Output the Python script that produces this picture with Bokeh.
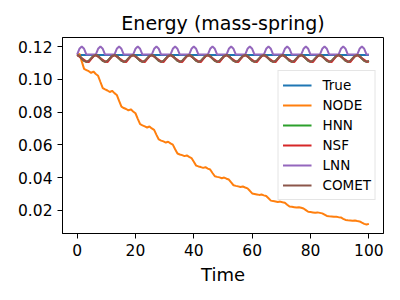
from bokeh.plotting import figure
from bokeh.models import Range1d, FixedTicker
from bokeh.embed import file_html
from bokeh.resources import INLINE

# ---------------- data ----------------
time = [round(0.8 * i, 1) for i in range(126)]  # sample times 0 .. 100

true_time = [0, 100]
true_energy = [0.1149, 0.1149]

node = [
    0.1150, 0.1156, 0.1110, 0.1064,
    0.1057, 0.1050, 0.1040, 0.1048, 0.1033, 0.1022, 0.0984, 0.0947,
    0.0939, 0.0932, 0.0923, 0.0930, 0.0916, 0.0905, 0.0868, 0.0833,
    0.0825, 0.0819, 0.0810, 0.0817, 0.0804, 0.0793, 0.0759, 0.0726,
    0.0719, 0.0713, 0.0706, 0.0712, 0.0700, 0.0691, 0.0661, 0.0633,
    0.0626, 0.0621, 0.0614, 0.0619, 0.0609, 0.0601, 0.0573, 0.0547,
    0.0541, 0.0537, 0.0531, 0.0535, 0.0526, 0.0519, 0.0496, 0.0473,
    0.0468, 0.0464, 0.0459, 0.0463, 0.0455, 0.0449, 0.0428, 0.0408,
    0.0404, 0.0401, 0.0396, 0.0400, 0.0393, 0.0388, 0.0370, 0.0353,
    0.0349, 0.0346, 0.0342, 0.0345, 0.0339, 0.0334, 0.0319, 0.0303,
    0.0300, 0.0297, 0.0294, 0.0296, 0.0291, 0.0287, 0.0273, 0.0259,
    0.0256, 0.0254, 0.0251, 0.0253, 0.0249, 0.0246, 0.0234, 0.0223,
    0.0221, 0.0219, 0.0217, 0.0218, 0.0215, 0.0211, 0.0201, 0.0191,
    0.0189, 0.0187, 0.0185, 0.0187, 0.0184, 0.0181, 0.0173, 0.0165,
    0.0163, 0.0162, 0.0160, 0.0161, 0.0158, 0.0156, 0.0148, 0.0141,
    0.0139, 0.0138, 0.0136, 0.0137, 0.0134, 0.0132, 0.0124, 0.0117,
    0.0113, 0.0117,
]

hnn = [
    0.1149, 0.1143, 0.1128, 0.1113, 0.1107, 0.1113, 0.1128, 0.1143,
    0.1149, 0.1143, 0.1128, 0.1113, 0.1107, 0.1113, 0.1128, 0.1143,
    0.1149, 0.1143, 0.1128, 0.1113, 0.1107, 0.1113, 0.1128, 0.1143,
    0.1149, 0.1143, 0.1128, 0.1113, 0.1107, 0.1113, 0.1128, 0.1143,
    0.1149, 0.1143, 0.1128, 0.1113, 0.1107, 0.1113, 0.1128, 0.1143,
    0.1149, 0.1143, 0.1128, 0.1113, 0.1107, 0.1113, 0.1128, 0.1143,
    0.1149, 0.1143, 0.1128, 0.1113, 0.1107, 0.1113, 0.1128, 0.1143,
    0.1149, 0.1143, 0.1128, 0.1113, 0.1107, 0.1113, 0.1128, 0.1143,
    0.1149, 0.1143, 0.1128, 0.1113, 0.1107, 0.1113, 0.1128, 0.1143,
    0.1149, 0.1143, 0.1128, 0.1113, 0.1107, 0.1113, 0.1128, 0.1143,
    0.1149, 0.1143, 0.1128, 0.1113, 0.1107, 0.1113, 0.1128, 0.1143,
    0.1149, 0.1143, 0.1128, 0.1113, 0.1107, 0.1113, 0.1128, 0.1143,
    0.1149, 0.1143, 0.1128, 0.1113, 0.1107, 0.1113, 0.1128, 0.1143,
    0.1149, 0.1143, 0.1128, 0.1113, 0.1107, 0.1113, 0.1128, 0.1143,
    0.1149, 0.1143, 0.1128, 0.1113, 0.1107, 0.1113, 0.1128, 0.1143,
    0.1149, 0.1143, 0.1128, 0.1113, 0.1107, 0.1113,
]

nsf = [
    0.1149, 0.1139, 0.1129, 0.1119, 0.1109, 0.1106, 0.1124, 0.1141,
    0.1149, 0.1139, 0.1129, 0.1119, 0.1109, 0.1106, 0.1124, 0.1141,
    0.1149, 0.1139, 0.1129, 0.1119, 0.1109, 0.1106, 0.1124, 0.1141,
    0.1149, 0.1139, 0.1129, 0.1119, 0.1109, 0.1106, 0.1124, 0.1141,
    0.1149, 0.1139, 0.1129, 0.1119, 0.1109, 0.1106, 0.1124, 0.1141,
    0.1149, 0.1139, 0.1129, 0.1119, 0.1109, 0.1106, 0.1124, 0.1141,
    0.1149, 0.1139, 0.1129, 0.1119, 0.1109, 0.1106, 0.1124, 0.1141,
    0.1149, 0.1139, 0.1129, 0.1119, 0.1109, 0.1106, 0.1124, 0.1141,
    0.1149, 0.1139, 0.1129, 0.1119, 0.1109, 0.1106, 0.1124, 0.1141,
    0.1149, 0.1139, 0.1129, 0.1119, 0.1109, 0.1106, 0.1124, 0.1141,
    0.1149, 0.1139, 0.1129, 0.1119, 0.1109, 0.1106, 0.1124, 0.1141,
    0.1149, 0.1139, 0.1129, 0.1119, 0.1109, 0.1106, 0.1124, 0.1141,
    0.1149, 0.1139, 0.1129, 0.1119, 0.1109, 0.1106, 0.1124, 0.1141,
    0.1149, 0.1139, 0.1129, 0.1119, 0.1109, 0.1106, 0.1124, 0.1141,
    0.1149, 0.1139, 0.1129, 0.1119, 0.1109, 0.1106, 0.1124, 0.1141,
    0.1149, 0.1139, 0.1129, 0.1119, 0.1109, 0.1106,
]

lnn = [
    0.1152, 0.1187, 0.1201, 0.1187, 0.1152, 0.1152, 0.1152, 0.1152,
    0.1152, 0.1187, 0.1201, 0.1187, 0.1152, 0.1152, 0.1152, 0.1152,
    0.1152, 0.1187, 0.1201, 0.1187, 0.1152, 0.1152, 0.1152, 0.1152,
    0.1152, 0.1187, 0.1201, 0.1187, 0.1152, 0.1152, 0.1152, 0.1152,
    0.1152, 0.1187, 0.1201, 0.1187, 0.1152, 0.1152, 0.1152, 0.1152,
    0.1152, 0.1187, 0.1201, 0.1187, 0.1152, 0.1152, 0.1152, 0.1152,
    0.1152, 0.1187, 0.1201, 0.1187, 0.1152, 0.1152, 0.1152, 0.1152,
    0.1152, 0.1187, 0.1201, 0.1187, 0.1152, 0.1152, 0.1152, 0.1152,
    0.1152, 0.1187, 0.1201, 0.1187, 0.1152, 0.1152, 0.1152, 0.1152,
    0.1152, 0.1187, 0.1201, 0.1187, 0.1152, 0.1152, 0.1152, 0.1152,
    0.1152, 0.1187, 0.1201, 0.1187, 0.1152, 0.1152, 0.1152, 0.1152,
    0.1152, 0.1187, 0.1201, 0.1187, 0.1152, 0.1152, 0.1152, 0.1152,
    0.1152, 0.1187, 0.1201, 0.1187, 0.1152, 0.1152, 0.1152, 0.1152,
    0.1152, 0.1187, 0.1201, 0.1187, 0.1152, 0.1152, 0.1152, 0.1152,
    0.1152, 0.1187, 0.1201, 0.1187, 0.1152, 0.1152, 0.1152, 0.1152,
    0.1152, 0.1187, 0.1201, 0.1187, 0.1152, 0.1152,
]

comet = [
    0.1149, 0.1143, 0.1128, 0.1113, 0.1107, 0.1113, 0.1128, 0.1143,
    0.1149, 0.1143, 0.1128, 0.1113, 0.1107, 0.1113, 0.1128, 0.1143,
    0.1149, 0.1143, 0.1128, 0.1113, 0.1107, 0.1113, 0.1128, 0.1143,
    0.1149, 0.1143, 0.1128, 0.1113, 0.1107, 0.1113, 0.1128, 0.1143,
    0.1149, 0.1143, 0.1128, 0.1113, 0.1107, 0.1113, 0.1128, 0.1143,
    0.1149, 0.1143, 0.1128, 0.1113, 0.1107, 0.1113, 0.1128, 0.1143,
    0.1149, 0.1143, 0.1128, 0.1113, 0.1107, 0.1113, 0.1128, 0.1143,
    0.1149, 0.1143, 0.1128, 0.1113, 0.1107, 0.1113, 0.1128, 0.1143,
    0.1149, 0.1143, 0.1128, 0.1113, 0.1107, 0.1113, 0.1128, 0.1143,
    0.1149, 0.1143, 0.1128, 0.1113, 0.1107, 0.1113, 0.1128, 0.1143,
    0.1149, 0.1143, 0.1128, 0.1113, 0.1107, 0.1113, 0.1128, 0.1143,
    0.1149, 0.1143, 0.1128, 0.1113, 0.1107, 0.1113, 0.1128, 0.1143,
    0.1149, 0.1143, 0.1128, 0.1113, 0.1107, 0.1113, 0.1128, 0.1143,
    0.1149, 0.1143, 0.1128, 0.1113, 0.1107, 0.1113, 0.1128, 0.1143,
    0.1149, 0.1143, 0.1128, 0.1113, 0.1107, 0.1113, 0.1128, 0.1143,
    0.1149, 0.1143, 0.1128, 0.1113, 0.1107, 0.1113,
]

x_ticks = [0, 20, 40, 60, 80, 100]
y_ticks = [0.02, 0.04, 0.06, 0.08, 0.10, 0.12]
y_tick_labels = ["0.02", "0.04", "0.06", "0.08", "0.10", "0.12"]

# ---------------- figure ----------------
FONT = "DejaVu Sans"
p = figure(
    width=392, height=292,
    output_backend="svg", toolbar_location=None,
    x_range=Range1d(-5, 105), y_range=Range1d(0.0058, 0.1256),
    min_border_left=62, min_border_right=9,
    min_border_top=37, min_border_bottom=59,
    title="Energy (mass-spring)",
)
p.background_fill_color = "white"
p.border_fill_color = "white"
p.title.text_font = FONT
p.title.text_font_size = "19px"
p.title.text_font_style = "normal"
p.title.text_color = "black"
p.title.align = "center"
p.title.standoff = 7

p.xgrid.visible = False
p.ygrid.visible = False
p.outline_line_color = "black"
p.outline_line_width = 1
p.outline_line_alpha = 1

for ax in (p.xaxis[0], p.yaxis[0]):
    ax.axis_line_color = "black"
    ax.axis_line_width = 1
    ax.major_tick_line_color = "black"
    ax.major_tick_line_width = 1
    ax.major_tick_out = 5
    ax.major_tick_in = 0
    ax.minor_tick_line_color = None
    ax.major_label_text_font = FONT
    ax.major_label_text_font_size = "15.5px"
    ax.major_label_text_color = "black"
    ax.major_label_standoff = 5

p.xaxis.ticker = FixedTicker(ticks=x_ticks)
p.yaxis.ticker = FixedTicker(ticks=y_ticks)
p.yaxis.major_label_overrides = {v: s for v, s in zip(y_ticks, y_tick_labels)}

p.xaxis.axis_label = "Time"
p.xaxis.axis_label_text_font = FONT
p.xaxis.axis_label_text_font_size = "18px"
p.xaxis.axis_label_text_font_style = "normal"
p.xaxis.axis_label_text_color = "black"
p.xaxis.axis_label_standoff = 5

LW = 2
p.line(true_time, true_energy, color="#1f77b4", line_width=LW, legend_label="True")
p.line(time, node, color="#ff7f0e", line_width=LW, legend_label="NODE")
p.line(time, hnn, color="#2ca02c", line_width=LW, legend_label="HNN")
p.line(time, nsf, color="#d62728", line_width=LW, legend_label="NSF")
p.line(time, lnn, color="#9467bd", line_width=LW, legend_label="LNN")
p.line(time, comet, color="#8c564b", line_width=LW, legend_label="COMET")

leg = p.legend[0]
leg.location = "right"
leg.margin = 7
leg.padding = 4
leg.spacing = 0
leg.label_height = 20
leg.glyph_height = 20
leg.glyph_width = 29
leg.label_standoff = 11
leg.label_text_font = FONT
leg.label_text_font_size = "13.5px"
leg.label_text_color = "black"
leg.border_line_color = "#cccccc"
leg.border_line_width = 1
leg.background_fill_color = "white"
leg.background_fill_alpha = 0.8

open("out.html", "w").write(file_html(p, INLINE))
